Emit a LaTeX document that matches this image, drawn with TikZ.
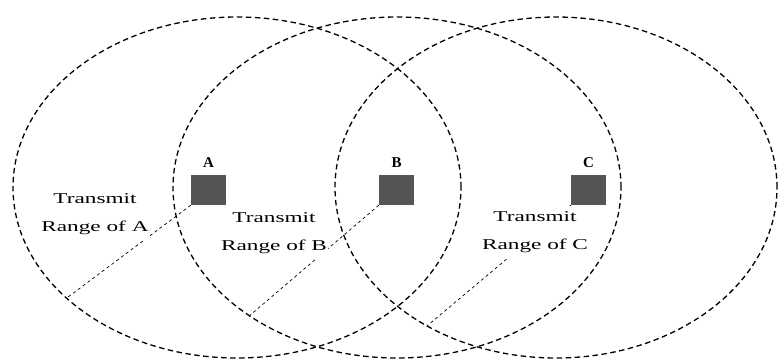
\documentclass[tikz,border=0pt]{standalone}
\usepackage{fontspec}
\setmainfont{Liberation Serif}
\newfontfamily\widefont[FakeStretch=1.55]{Liberation Serif}
\usetikzlibrary{shapes.geometric,positioning}

\definecolor{stationgray}{RGB}{85,85,85}

\begin{document}
\begin{tikzpicture}[
  x=1pt,y=-1pt,
  txrange/.style={draw,ellipse,dash pattern=on 5.5pt off 3.5pt,line width=1.3pt,inner sep=0pt,minimum width=448pt,minimum height=341pt},
  station/.style={fill=stationgray,minimum width=35pt,minimum height=30pt,inner sep=0pt},
  lbl/.style={font=\fontsize{15}{17}\selectfont\bfseries,inner sep=0pt},
  rangetext/.style={fill=white,align=center,inner xsep=1pt,inner ysep=5pt,font=\widefont\fontsize{15}{28}\selectfont},
  radiusline/.style={dash pattern=on 3pt off 3pt,line width=0.7pt}
]
\useasboundingbox (0,0) rectangle (779,363);
% transmit ranges
\node[txrange] (ellA) at (237,187.5) {};
\node[txrange] (ellB) at (397,187.5) {};
\node[txrange,minimum width=442pt] (ellC) at (556,187.5) {};
% stations
\node[station] (a) at (208.5,190) {};
\node[station] (b) at (396.5,190) {};
\node[station] (c) at (588.5,190) {};
\node[lbl,above=7pt of a] (la) {A};
\node[lbl,above=7pt of b] (lb) {B};
\node[lbl,above=7pt of c] (lc) {C};
% radius lines
\draw[radiusline] (a.south west) -- (ellA.213.5);
\draw[radiusline] (b.south west) -- (ellB.221.5);
\draw[radiusline] (c.south west) -- (ellC.227.9);
% range labels
\node[rangetext] (ta) at (95,214) {Transmit\\Range of A};
\node[rangetext] (tb) at (274,233) {Transmit\\Range of B};
\node[rangetext] (tc) at (535,232) {Transmit\\Range of C};
\end{tikzpicture}
\end{document}
